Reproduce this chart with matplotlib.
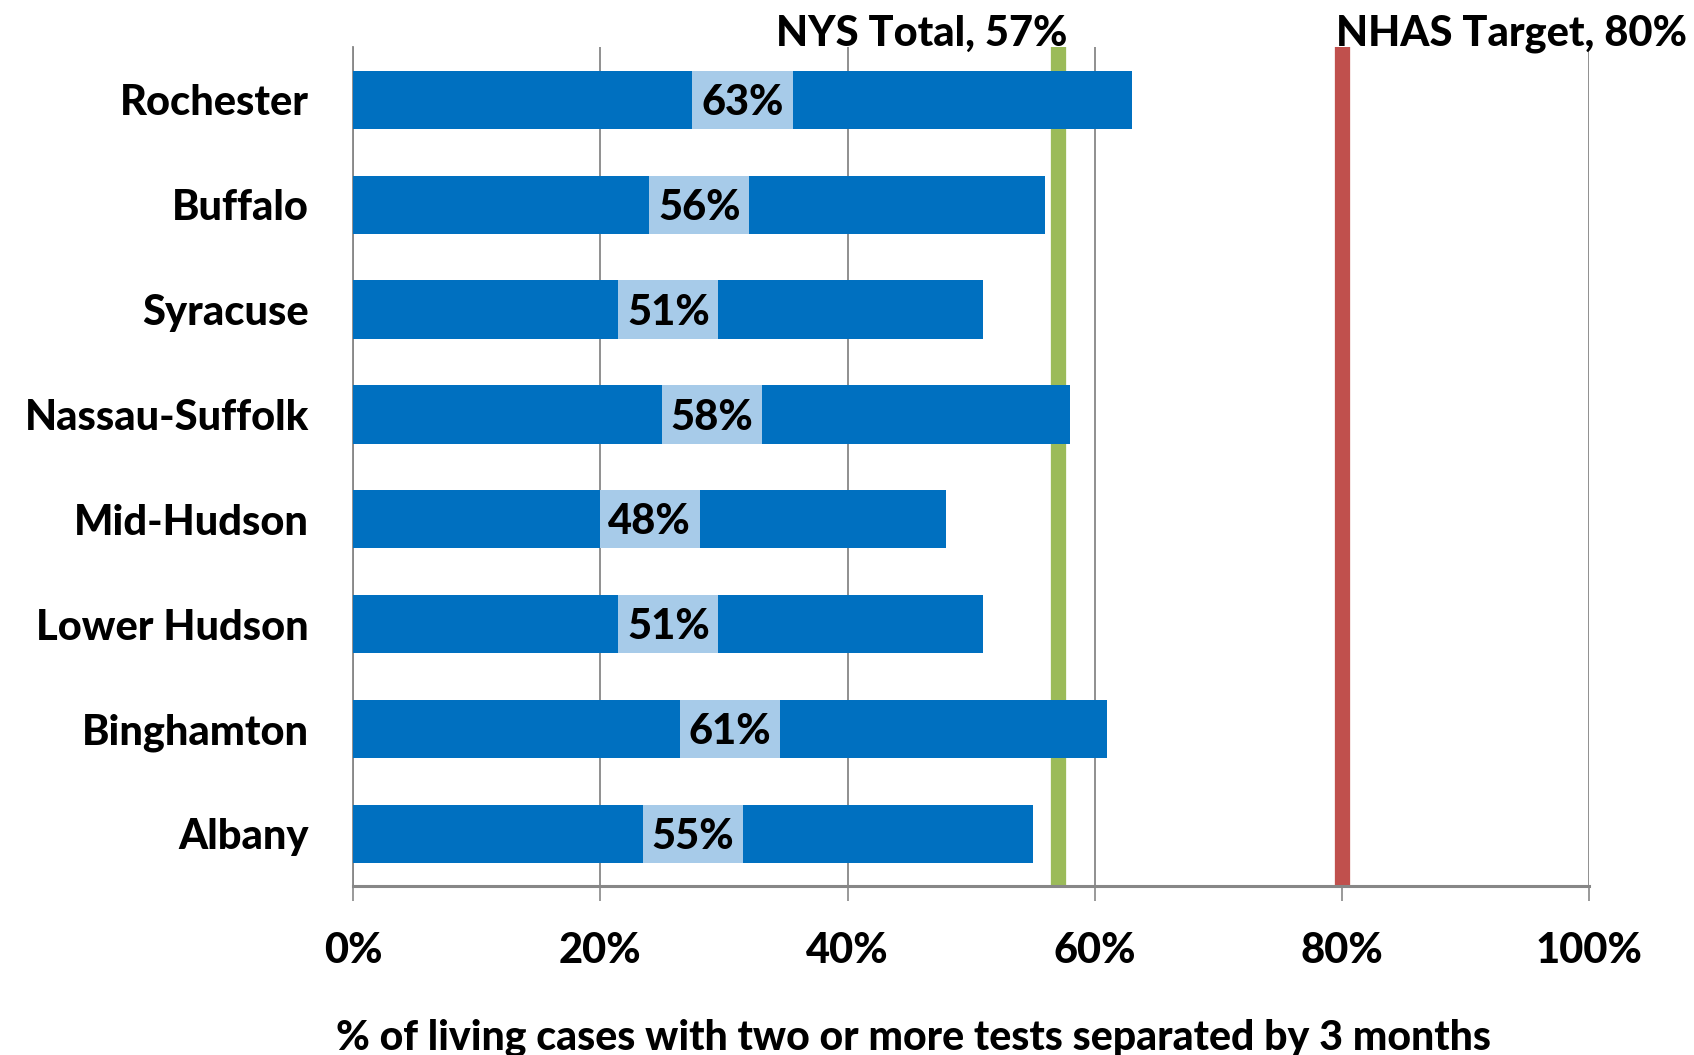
import matplotlib
matplotlib.use("Agg")
import matplotlib.pyplot as plt

categories = ["Albany", "Binghamton", "Lower Hudson", "Mid-Hudson",
              "Nassau-Suffolk", "Syracuse", "Buffalo", "Rochester"]
values = [55, 61, 51, 48, 58, 51, 56, 63]
nys_total = 57
nhas_target = 80
xticks = [0, 20, 40, 60, 80, 100]
xtick_labels = ["0%", "20%", "40%", "60%", "80%", "100%"]

plt.rcParams['font.family'] = ['Lato', 'DejaVu Sans']

W = 900
FS = 30

fig = plt.figure(figsize=(16.94, 10.55), dpi=100)
ax = fig.add_axes([0.2085, 0.160, 0.7295, 0.795])

bar_h = 0.555
box_w = 8.1
ypos = list(range(len(categories)))
ax.barh(ypos, values, height=bar_h, color="#0070C0", zorder=3)
ax.barh(ypos, [box_w] * len(values), left=[v / 2 - box_w / 2 for v in values],
        height=bar_h, color="#A7CBE9", zorder=4)
for y, v in zip(ypos, values):
    ax.text(v / 2, y - 0.03, f"{v}%", ha="center", va="center", fontsize=FS,
            fontweight=W, color="black", zorder=5)

ax.axvline(nys_total, ymin=0, ymax=0.994, color="#9BBB59", lw=11, zorder=2)
ax.axvline(nhas_target, ymin=0, ymax=0.994, color="#C0504D", lw=11, zorder=2)
ax.set_ylim(-0.5, 7.5)
ax.set_xlim(0, 100)

ax.text(nys_total + 0.8, 7.63, f"NYS Total, {nys_total}%", ha="right", va="center",
        fontsize=FS, fontweight=W)
ax.text(nhas_target - 0.5, 7.63, f"NHAS Target, {nhas_target}%", ha="left", va="center",
        fontsize=FS, fontweight=W, clip_on=False)

ax.set_xticks(xticks)
ax.set_xticklabels(xtick_labels, fontsize=FS, fontweight=W)
ax.set_yticks(ypos)
ax.set_yticklabels(categories, fontsize=FS, fontweight=W)
ax.tick_params(axis="x", length=11, width=1.2, color="#878787", pad=22, direction="out")
ax.tick_params(axis="y", length=0, pad=32)
ax.grid(axis="x", color="#878787", lw=1.3, zorder=1)
for s in ["top", "right"]:
    ax.spines[s].set_visible(False)
ax.spines["left"].set_color("#878787")
ax.spines["left"].set_linewidth(1.3)
ax.spines["bottom"].set_color("#878787")
ax.spines["bottom"].set_linewidth(2.2)
ax.set_xlabel("% of living cases with two or more tests separated by 3 months",
              fontsize=29.5, fontweight=W)
ax.xaxis.set_label_coords(0.453, -0.181)
ax.xaxis.label.set_va("center")

fig.savefig("out.png", dpi=100)
